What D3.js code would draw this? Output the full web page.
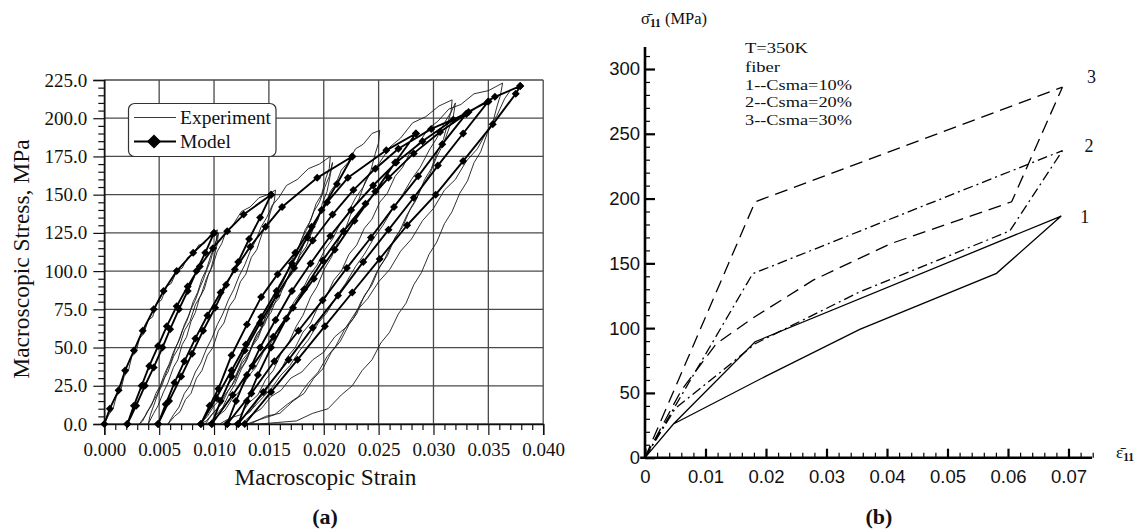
<!DOCTYPE html>
<html><head><meta charset="utf-8">
<script src="https://cdn.jsdelivr.net/npm/d3@7"></script>
<style>body{margin:0;background:#fff} svg{display:block}</style>
</head><body>
<svg id="c" width="1145" height="532"></svg>
<script>
// ---------------- Panel (a) data ----------------
const xTicksA = [0,0.005,0.010,0.015,0.020,0.025,0.030,0.035,0.040];
const yTicksA = [0,25,50,75,100,125,150,175,200,225];

// Experiment (thin, noisy) branches: [strain, stress MPa]
const expLoad0 = [[0,0],[0.0004,6],[0.0008,10],[0.0011,18],[0.0015,22],[0.0018,31],[0.0022,35],[0.0025,44],[0.0029,47],[0.0032,56],[0.0036,59],[0.0040,68],[0.0044,70],[0.0048,79],[0.0052,81],[0.0057,90],[0.0061,92],[0.0066,100],[0.0071,102],[0.0076,109],[0.0081,111],[0.0086,117],[0.0091,118],[0.0097,124],[0.0103,127]];
const expUnload1 = [[0.0103,127],[0.0102,120],[0.0100,116],[0.0097,107],[0.0094,102],[0.0090,94],[0.0087,89],[0.0083,81],[0.0079,75],[0.0075,67],[0.0071,61],[0.0067,53],[0.0063,47],[0.0059,39],[0.0055,33],[0.0051,25],[0.0047,20],[0.0043,12],[0.0039,8],[0.0035,2],[0.0032,0]];
const expReload1a = [[0.0032,0],[0.0038,6],[0.0043,13],[0.0048,19],[0.0053,28],[0.0058,34],[0.0063,44],[0.0068,50],[0.0073,61],[0.0078,67],[0.0083,78],[0.0088,84],[0.0093,95],[0.0097,101],[0.0101,112],[0.0103,118],[0.0104,125]];
const expUnload1a = [[0.0104,125],[0.0101,117],[0.0097,110],[0.0093,101],[0.0089,95],[0.0085,86],[0.0081,80],[0.0077,71],[0.0073,65],[0.0069,56],[0.0065,50],[0.0061,41],[0.0057,35],[0.0053,26],[0.0049,20],[0.0045,12],[0.0042,6],[0.0040,0]];
const expReload1 = [[0.0040,0],[0.0045,7],[0.0049,12],[0.0054,21],[0.0058,27],[0.0063,37],[0.0067,42],[0.0071,52],[0.0075,57],[0.0079,67],[0.0083,73],[0.0087,83],[0.0091,88],[0.0095,98],[0.0099,104],[0.0103,113],[0.0107,118],[0.0111,126],[0.0117,130],[0.0125,139],[0.0133,142],[0.0141,148],[0.0149,150],[0.0156,153]];
const expUnload2 = [[0.0156,153],[0.0155,146],[0.0152,140],[0.0148,130],[0.0144,125],[0.0139,114],[0.0134,109],[0.0129,98],[0.0124,93],[0.0119,82],[0.0114,77],[0.0109,66],[0.0104,61],[0.0099,50],[0.0094,45],[0.0089,35],[0.0084,30],[0.0079,20],[0.0074,16],[0.0069,8],[0.0064,5],[0.0058,0]];
const expReload2 = [[0.0058,0],[0.0063,6],[0.0068,11],[0.0073,20],[0.0078,25],[0.0083,34],[0.0088,40],[0.0093,49],[0.0098,56],[0.0103,65],[0.0108,72],[0.0113,81],[0.0118,88],[0.0123,97],[0.0128,104],[0.0133,113],[0.0138,120],[0.0143,129],[0.0148,135],[0.0153,143],[0.0159,148],[0.0166,156],[0.0176,160],[0.0186,167],[0.0196,170],[0.0206,175]];
const expUnload3 = [[0.0206,175],[0.0205,167],[0.0202,161],[0.0198,150],[0.0193,144],[0.0188,133],[0.0183,127],[0.0177,115],[0.0172,109],[0.0166,98],[0.0160,91],[0.0155,81],[0.0149,73],[0.0143,63],[0.0137,56],[0.0131,45],[0.0125,39],[0.0119,28],[0.0113,22],[0.0107,13],[0.0100,8],[0.0093,2],[0.0087,0]];
const expReload3a = [[0.0087,0],[0.0094,5],[0.0100,12],[0.0107,17],[0.0113,26],[0.0120,32],[0.0126,42],[0.0133,48],[0.0139,59],[0.0146,65],[0.0152,76],[0.0159,82],[0.0165,93],[0.0172,99],[0.0178,110],[0.0184,116],[0.0190,127],[0.0195,134],[0.0199,145],[0.0203,152],[0.0206,163],[0.0208,171]];
const expUnload3a = [[0.0208,171],[0.0205,162],[0.0201,155],[0.0196,145],[0.0191,139],[0.0185,128],[0.0180,121],[0.0174,110],[0.0169,104],[0.0163,93],[0.0158,87],[0.0152,76],[0.0147,70],[0.0141,59],[0.0136,53],[0.0130,42],[0.0125,36],[0.0119,26],[0.0114,20],[0.0108,11],[0.0102,6],[0.0096,1],[0.0092,0]];
const expReload3 = [[0.0092,0],[0.0098,6],[0.0104,11],[0.0110,19],[0.0116,25],[0.0122,34],[0.0128,40],[0.0134,50],[0.0140,56],[0.0146,67],[0.0152,73],[0.0158,84],[0.0164,90],[0.0170,101],[0.0176,107],[0.0182,118],[0.0188,124],[0.0194,135],[0.0200,141],[0.0206,152],[0.0211,157],[0.0216,166],[0.0222,171],[0.0229,180],[0.0236,183],[0.0244,190],[0.0251,192]];
const expUnload4 = [[0.0251,192],[0.0250,184],[0.0247,177],[0.0243,166],[0.0238,159],[0.0232,147],[0.0226,140],[0.0220,128],[0.0214,121],[0.0207,109],[0.0201,102],[0.0194,90],[0.0188,83],[0.0181,71],[0.0175,64],[0.0168,53],[0.0161,46],[0.0154,35],[0.0147,29],[0.0140,19],[0.0132,14],[0.0124,6],[0.0115,4],[0.0105,0],[0.0096,0]];
const expReload4 = [[0.0096,0],[0.0103,5],[0.0110,9],[0.0117,17],[0.0124,22],[0.0131,31],[0.0138,37],[0.0145,47],[0.0152,53],[0.0159,63],[0.0166,70],[0.0173,80],[0.0180,87],[0.0187,97],[0.0194,104],[0.0201,114],[0.0208,121],[0.0215,131],[0.0222,138],[0.0229,148],[0.0236,155],[0.0243,165],[0.0251,171],[0.0260,181],[0.0270,187],[0.0281,197],[0.0293,201],[0.0305,208],[0.0317,212]];
const expUnload5 = [[0.0317,212],[0.0316,204],[0.0313,197],[0.0309,186],[0.0304,179],[0.0298,167],[0.0292,160],[0.0285,148],[0.0279,141],[0.0272,129],[0.0265,122],[0.0258,110],[0.0251,103],[0.0244,91],[0.0237,84],[0.0230,72],[0.0223,65],[0.0215,54],[0.0207,47],[0.0199,36],[0.0191,30],[0.0182,20],[0.0172,15],[0.0160,7],[0.0147,5],[0.0133,0],[0.0118,0]];
const expReload5a = [[0.0118,0],[0.0127,5],[0.0135,10],[0.0144,17],[0.0152,23],[0.0161,32],[0.0169,38],[0.0178,48],[0.0186,55],[0.0195,66],[0.0203,73],[0.0212,84],[0.0220,92],[0.0229,103],[0.0237,111],[0.0246,122],[0.0254,130],[0.0263,141],[0.0271,149],[0.0280,160],[0.0288,168],[0.0296,179],[0.0303,187],[0.0310,197],[0.0316,204],[0.0320,210]];
const expUnload5a = [[0.0320,210],[0.0318,201],[0.0314,193],[0.0309,183],[0.0303,175],[0.0297,164],[0.0290,156],[0.0283,145],[0.0276,137],[0.0269,126],[0.0262,118],[0.0255,107],[0.0248,99],[0.0241,88],[0.0234,80],[0.0227,69],[0.0219,62],[0.0211,51],[0.0203,44],[0.0195,34],[0.0186,27],[0.0177,18],[0.0167,13],[0.0155,6],[0.0142,3],[0.0130,0],[0.0121,0]];
const expReload5 = [[0.0121,0],[0.0127,5],[0.0133,8],[0.0140,16],[0.0146,20],[0.0153,29],[0.0160,34],[0.0167,44],[0.0174,50],[0.0181,60],[0.0188,66],[0.0195,77],[0.0202,83],[0.0209,94],[0.0216,100],[0.0223,111],[0.0230,117],[0.0237,128],[0.0244,134],[0.0251,145],[0.0258,151],[0.0265,162],[0.0272,168],[0.0279,178],[0.0287,184],[0.0295,193],[0.0304,198],[0.0314,206],[0.0325,209],[0.0337,216],[0.0350,218],[0.0363,223]];
const expUnload6 = [[0.0363,223],[0.0361,215],[0.0358,208],[0.0354,197],[0.0349,190],[0.0343,178],[0.0337,171],[0.0331,159],[0.0324,151],[0.0317,139],[0.0310,131],[0.0303,119],[0.0296,111],[0.0289,99],[0.0282,91],[0.0275,79],[0.0268,72],[0.0260,60],[0.0252,53],[0.0244,42],[0.0235,35],[0.0226,25],[0.0216,19],[0.0204,10],[0.0190,7],[0.0175,2],[0.0158,1],[0.0141,0],[0.0125,0]];
const expReload6 = [[0.0125,0],[0.0134,6],[0.0143,10],[0.0152,18],[0.0161,22],[0.0170,30],[0.0180,34],[0.0190,42],[0.0200,47],[0.0210,57],[0.0220,63],[0.0230,74],[0.0240,82],[0.0250,93],[0.0260,101],[0.0270,113],[0.0280,121],[0.0290,133],[0.0300,141],[0.0310,153],[0.0320,160],[0.0330,172],[0.0340,180],[0.0350,193],[0.0358,202],[0.0365,213],[0.0370,218]];

// Model (thick with diamonds) branches
const modelLoad0 = [[0,0],[0.0005,10],[0.0013,22],[0.0019,35],[0.0027,48],[0.0035,61],[0.0045,75],[0.0054,87],[0.0066,100],[0.0081,112],[0.0100,125]];
const modelUnload1 = [[0.0100,125],[0.0092,112],[0.0084,100],[0.0076,87],[0.0068,75],[0.0060,62],[0.0053,50],[0.0045,37],[0.0037,25],[0.0029,12],[0.0021,0]];
const modelReload1 = [[0.0021,0],[0.0027,12],[0.0034,25],[0.0041,38],[0.0049,51],[0.0057,64],[0.0066,77],[0.0076,90],[0.0087,103],[0.0099,115],[0.0112,126],[0.0127,137],[0.0152,150]];
const modelUnload2 = [[0.0152,150],[0.0142,135],[0.0132,121],[0.0122,106],[0.0111,91],[0.0101,76],[0.0090,61],[0.0080,46],[0.0070,31],[0.0059,15],[0.0049,0]];
const modelReload2 = [[0.0049,0],[0.0056,13],[0.0064,27],[0.0073,41],[0.0083,56],[0.0094,71],[0.0106,86],[0.0119,101],[0.0133,116],[0.0147,129],[0.0162,142],[0.0194,161],[0.0226,175]];
const modelUnload3 = [[0.0226,175],[0.0212,157],[0.0198,140],[0.0185,122],[0.0171,105],[0.0157,87],[0.0143,70],[0.0129,52],[0.0116,35],[0.0102,17],[0.0088,0]];
const modelReload3 = [[0.0088,0],[0.0096,12],[0.0104,23],[0.0116,45],[0.0130,65],[0.0143,83],[0.0158,98],[0.0174,112],[0.0189,129],[0.0203,145],[0.0222,161],[0.0257,179],[0.0284,190]];
const modelUnload4 = [[0.0284,190],[0.0265,171],[0.0247,152],[0.0228,133],[0.0210,114],[0.0191,95],[0.0172,76],[0.0154,57],[0.0135,38],[0.0117,19],[0.0098,0]];
const modelReload4 = [[0.0098,0],[0.0106,15],[0.0116,31],[0.0128,48],[0.0142,66],[0.0157,84],[0.0173,102],[0.0190,120],[0.0208,137],[0.0227,153],[0.0247,167],[0.0268,180],[0.0298,193],[0.0330,203]];
const modelUnload5 = [[0.0330,203],[0.0308,183],[0.0286,162],[0.0264,142],[0.0243,122],[0.0221,102],[0.0199,81],[0.0177,61],[0.0155,41],[0.0134,20],[0.0112,0]];
const modelReload5 = [[0.0112,0],[0.0120,15],[0.0130,32],[0.0142,50],[0.0156,68],[0.0171,87],[0.0188,105],[0.0206,123],[0.0225,140],[0.0245,156],[0.0266,171],[0.0290,185],[0.0318,199],[0.0350,211]];
const modelUnload6 = [[0.0350,211],[0.0327,190],[0.0304,169],[0.0282,148],[0.0259,127],[0.0236,106],[0.0213,84],[0.0190,63],[0.0168,42],[0.0145,21],[0.0122,0]];
const modelReload6 = [[0.0122,0],[0.0130,15],[0.0140,32],[0.0152,50],[0.0166,69],[0.0182,88],[0.0199,107],[0.0218,126],[0.0238,144],[0.0259,161],[0.0282,177],[0.0306,191],[0.0332,204],[0.0356,214],[0.0379,221]];
const modelUnload7 = [[0.0379,221],[0.0375,216],[0.0354,196],[0.0327,172],[0.0302,150],[0.0276,130],[0.0251,108],[0.0226,86],[0.0201,64],[0.0176,42],[0.0152,21],[0.0128,0]];

// ---------------- Panel (b) data ----------------
const xTicksB = [0,0.01,0.02,0.03,0.04,0.05,0.06,0.07];
const yTicksB = [0,50,100,150,200,250,300];
const curve1 = [[0,0],[0.0047,26],[0.0182,89.5],[0.0688,186.5],[0.0581,142.3],[0.0355,99],[0.0200,63],[0.0047,26]];
const curve2Upper = [[0,0],[0.0178,142],[0.0690,237]];
const curve2Lower = [[0,0],[0.0050,38],[0.0125,66],[0.0182,88],[0.0355,128],[0.0603,175],[0.0690,237]];
const curve3Upper = [[0,0],[0.0182,197.5],[0.0690,286]];
const curve3Lower = [[0,0],[0.0060,52],[0.0118,88],[0.0179,108],[0.0278,137],[0.0405,165],[0.0606,197.5],[0.0690,286]];
const curveLabels = [["3",0.0738,294],["2",0.0734,241],["1",0.0727,186]];
const noteLines = ["T=350K","fiber","1--Csma=10%","2--Csma=20%","3--Csma=30%"];

// ---------------- Drawing ----------------
const svg = d3.select("#c");
const serif = "'Liberation Serif','Times New Roman',Times,serif";
const sans = "'Liberation Sans',Arial,Helvetica,sans-serif";

// ===== Panel (a) =====
const xA = d3.scaleLinear([0,0.04],[104.3,543.2]);
const yA = d3.scaleLinear([0,225],[424,80]);
const gA = svg.append("g");

gA.append("g").selectAll("line").data(xTicksA).join("line")
  .attr("x1",d=>xA(d)).attr("x2",d=>xA(d)).attr("y1",yA(0)).attr("y2",yA(225))
  .attr("stroke","#4a4a4a").attr("stroke-width",1.3);
gA.append("g").selectAll("line").data(yTicksA).join("line")
  .attr("x1",xA(0)).attr("x2",xA(0.04)).attr("y1",d=>yA(d)).attr("y2",d=>yA(d))
  .attr("stroke","#4a4a4a").attr("stroke-width",1.3);

const minorXA = d3.range(0,41).map(i=>i/1000).filter(v=>Math.round(v*1000)%5!==0);
const minorYA = d3.range(0,46).map(i=>i*5).filter(v=>v%25!==0);
gA.append("g").attr("transform",`translate(0,${yA(0)})`)
  .call(d3.axisBottom(xA).tickValues(xTicksA).tickFormat(d3.format(".3f")).tickSize(11).tickPadding(8));
gA.append("g").attr("transform",`translate(0,${yA(0)})`)
  .call(d3.axisBottom(xA).tickValues(minorXA).tickFormat("").tickSize(6)).select(".domain").remove();
gA.append("g").attr("transform",`translate(${xA(0)},0)`)
  .call(d3.axisLeft(yA).tickValues(yTicksA).tickFormat(d3.format(".1f")).tickSize(11).tickPadding(6));
gA.append("g").attr("transform",`translate(${xA(0)},0)`)
  .call(d3.axisLeft(yA).tickValues(minorYA).tickFormat("").tickSize(6)).select(".domain").remove();
gA.selectAll(".tick line").attr("stroke","#111").attr("stroke-width",1.2);
gA.selectAll(".domain").attr("stroke","#111").attr("stroke-width",1.5);
gA.selectAll(".tick text").attr("font-family",serif).attr("font-size",19).attr("fill","#111");

const lineA = d3.line().x(d=>xA(d[0])).y(d=>yA(d[1]));
const experiment = [expLoad0,expUnload1,expReload1a,expUnload1a,expReload1,expUnload2,expReload2,expUnload3,expReload3a,expUnload3a,expReload3,expUnload4,expReload4,expUnload5,expReload5a,expUnload5a,expReload5,expUnload6,expReload6].flat();
const model = [modelLoad0,modelUnload1,modelReload1,modelUnload2,modelReload2,modelUnload3,modelReload3,modelUnload4,modelReload4,modelUnload5,modelReload5,modelUnload6,modelReload6,modelUnload7].flat();

gA.append("path").datum(experiment).attr("d",lineA)
  .attr("fill","none").attr("stroke","#1a1a1a").attr("stroke-width",0.9).attr("stroke-linejoin","round");
gA.append("path").datum(model).attr("d",lineA)
  .attr("fill","none").attr("stroke","#000").attr("stroke-width",1.9).attr("stroke-linejoin","round");
const diamond = d3.symbol(d3.symbolSquare,32);
gA.append("g").selectAll("path").data(model).join("path")
  .attr("d",diamond).attr("transform",d=>`translate(${xA(d[0])},${yA(d[1])}) rotate(45)`).attr("fill","#000");

// legend
const lg = gA.append("g");
lg.append("rect").attr("x",128.5).attr("y",103.5).attr("width",147.5).attr("height",53).attr("rx",6)
  .attr("fill","#fff").attr("stroke","#333").attr("stroke-width",1.2);
lg.append("line").attr("x1",134).attr("x2",176).attr("y1",117.5).attr("y2",117.5).attr("stroke","#222").attr("stroke-width",0.9);
lg.append("line").attr("x1",134).attr("x2",176).attr("y1",141.5).attr("y2",141.5).attr("stroke","#000").attr("stroke-width",1.9);
lg.append("path").attr("d",d3.symbol(d3.symbolSquare,100)).attr("transform","translate(154,141.5) rotate(45)").attr("fill","#000");
lg.append("text").attr("x",180).attr("y",123.5).text("Experiment").attr("font-family",serif).attr("font-size",19.5).attr("fill","#111");
lg.append("text").attr("x",180).attr("y",147.5).text("Model").attr("font-family",serif).attr("font-size",19.5).attr("fill","#111");

gA.append("text").attr("x",325.5).attr("y",485).attr("text-anchor","middle").text("Macroscopic Strain")
  .attr("font-family",serif).attr("font-size",23.3).attr("fill","#111");
gA.append("text").attr("transform","translate(29,259) rotate(-90)").attr("text-anchor","middle").text("Macroscopic Stress, MPa")
  .attr("font-family",serif).attr("font-size",23.5).attr("fill","#111");
gA.append("text").attr("x",325).attr("y",524).attr("text-anchor","middle").text("(a)")
  .attr("font-family",serif).attr("font-weight","bold").attr("font-size",22).attr("fill","#111");

// ===== Panel (b) =====
const xB = d3.scaleLinear([0,0.07],[645,1068.5]);
const yB = d3.scaleLinear([0,300],[457.7,69]);
const gB = svg.append("g");

const minorXB = d3.range(0,38).map(i=>i*0.002).filter(v=>Math.round(v*1000)%10!==0);
const minorYB = d3.range(0,32).map(i=>i*10).filter(v=>v%50!==0);

gB.append("line").attr("x1",xB(-0.0008)).attr("x2",xB(0.0739)).attr("y1",yB(0)).attr("y2",yB(0))
  .attr("stroke","#000").attr("stroke-width",2.6);
gB.append("line").attr("x1",xB(0)).attr("x2",xB(0)).attr("y1",yB(0)).attr("y2",yB(317))
  .attr("stroke","#000").attr("stroke-width",2.6);

const axXB = gB.append("g").attr("transform",`translate(0,${yB(0)})`)
  .call(d3.axisBottom(xB).tickValues(xTicksB).tickFormat(d=>d===0?"0":d.toFixed(2)).tickSize(-9).tickPadding(12));
const axXBm = gB.append("g").attr("transform",`translate(0,${yB(0)})`)
  .call(d3.axisBottom(xB).tickValues(minorXB).tickFormat("").tickSize(-5));
const axYB = gB.append("g").attr("transform",`translate(${xB(0)},0)`)
  .call(d3.axisLeft(yB).tickValues(yTicksB).tickFormat(d3.format("d")).tickSize(-10).tickPadding(5));
const axYBm = gB.append("g").attr("transform",`translate(${xB(0)},0)`)
  .call(d3.axisLeft(yB).tickValues(minorYB).tickFormat("").tickSize(-5));
gB.selectAll(".domain").remove();
axXB.selectAll(".tick line").attr("stroke","#000").attr("stroke-width",2.2);
axYB.selectAll(".tick line").attr("stroke","#000").attr("stroke-width",2.2);
axXBm.selectAll(".tick line").attr("stroke","#000").attr("stroke-width",1.2);
axYBm.selectAll(".tick line").attr("stroke","#000").attr("stroke-width",1.2);
gB.selectAll(".tick text").attr("font-family",sans).attr("font-size",18.5).attr("fill","#111");
axXB.selectAll(".tick text").attr("dy","0.72em");

const lineB = d3.line().x(d=>xB(d[0])).y(d=>yB(d[1]));
const stylePath = (data,dash)=>gB.append("path").datum(data).attr("d",lineB).attr("fill","none")
  .attr("stroke","#000").attr("stroke-width",1.3).attr("stroke-dasharray",dash);
stylePath(curve1,null);
stylePath(curve2Upper,"10,4,2,4");
stylePath(curve2Lower,"10,4,2,4");
stylePath(curve3Upper,"13,7");
stylePath(curve3Lower,"13,7");

gB.append("g").selectAll("text").data(curveLabels).join("text")
  .attr("x",d=>xB(d[1])).attr("y",d=>yB(d[2])).attr("dy","0.35em").attr("text-anchor","middle")
  .text(d=>d[0]).attr("font-family",serif).attr("font-size",18).attr("fill","#111");

const noteY = [53,72,89.5,107,124.5];
const noteW = [63,35,107,107,107];
gB.append("g").selectAll("text").data(noteLines).join("text")
  .attr("x",745).attr("y",(d,i)=>noteY[i]).text(d=>d)
  .attr("textLength",(d,i)=>noteW[i]).attr("lengthAdjust","spacingAndGlyphs")
  .attr("font-family",serif).attr("font-size",15.5).attr("fill","#111");

const ty = gB.append("text").attr("x",641).attr("y",24).attr("font-family",serif).attr("font-size",16.5).attr("fill","#111");
ty.append("tspan").text("σ\u0304");
ty.append("tspan").text("11").attr("font-size",11.5).attr("font-weight","bold").attr("dy",3);
ty.append("tspan").text(" (MPa)").attr("dy",-3);
const tx = gB.append("text").attr("x",1116).attr("y",458).attr("font-family",serif).attr("font-size",17).attr("fill","#111");
tx.append("tspan").text("ε\u0304");
tx.append("tspan").text("11").attr("font-size",11.5).attr("font-weight","bold").attr("dy",3);

gB.append("text").attr("x",879).attr("y",524).attr("text-anchor","middle").text("(b)")
  .attr("font-family",serif).attr("font-weight","bold").attr("font-size",22).attr("fill","#111");
</script>
</body></html>
